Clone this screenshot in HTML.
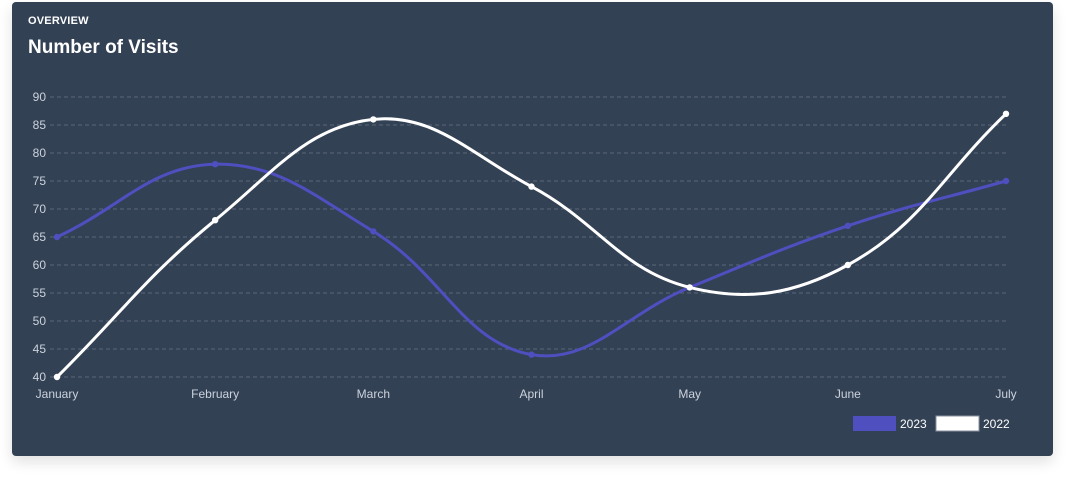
<!DOCTYPE html>
<html><head><meta charset="utf-8"><style>
html,body{margin:0;padding:0;background:#fff;width:1065px;height:478px;overflow:hidden;font-family:"Liberation Sans",sans-serif}
#card{position:absolute;left:12px;top:2px;width:1041px;height:454px;background:#334155;border-radius:4px;box-shadow:0 6px 14px rgba(0,0,0,0.12)}
#ov{position:absolute;left:16px;top:13px;font-size:11px;font-weight:bold;color:#fff;letter-spacing:0.2px}
#ttl{position:absolute;left:16px;top:35px;font-size:19px;font-weight:bold;color:#fff}
svg{position:absolute;left:0;top:0}
</style></head><body>
<div id="card">
<div id="ov">OVERVIEW</div>
<div id="ttl">Number of Visits</div>
</div>
<svg id="chart" width="1065" height="478"></svg>
<script>
const categories=["January","February","March","April","May","June","July"];
const yTicks=[40,45,50,55,60,65,70,75,80,85,90];
const values2023=[65,78,66,44,56,67,75];
const values2022=[40,68,86,74,56,60,87];
const seriesNames=["2023","2022"];
const seriesColors=["#4f4fbf","#ffffff"];
const NS="http://www.w3.org/2000/svg";
const svg=document.getElementById('chart');
const x0=57,x1=1006,yTop=97,yBot=377,vMin=40,vMax=90;
const xs=i=>x0+(x1-x0)*i/(categories.length-1);
const ys=v=>yBot-(v-vMin)/(vMax-vMin)*(yBot-yTop);
function mk(t,a,txt){const e=document.createElementNS(NS,t);for(const k in a)e.setAttribute(k,a[k]);if(txt!==undefined)e.textContent=txt;svg.appendChild(e);return e;}
yTicks.forEach(v=>{
 const l=mk('line',{x1:50,x2:x1,y1:ys(v),y2:ys(v),stroke:'#5b6779','stroke-dasharray':'4 3','stroke-width':1});
 
 
 const t=mk('text',{x:46,y:ys(v)+4,'text-anchor':'end','font-size':12,fill:'#cbd2dc'},v);
 
 
});
categories.forEach((c,i)=>{
 const t=mk('text',{x:xs(i),y:398,'text-anchor':'middle','font-size':12,fill:'#cbd2dc'},c);
 
 
});
function path(vals){
 const p=vals.map((v,i)=>[xs(i),ys(v)]);const T=0.4;
 let d='M'+p[0][0]+','+p[0][1];
 const cps=p.map((pt,i)=>{
  const prev=p[i-1]||pt,next=p[i+1]||pt;
  const d01=Math.hypot(pt[0]-prev[0],pt[1]-prev[1]),d12=Math.hypot(next[0]-pt[0],next[1]-pt[1]);
  let fa=d01/(d01+d12)||0,fb=d12/(d01+d12)||0;fa*=T;fb*=T;
  return {p:[pt[0]-fa*(next[0]-prev[0]),pt[1]-fa*(next[1]-prev[1])],n:[pt[0]+fb*(next[0]-prev[0]),pt[1]+fb*(next[1]-prev[1])]};
 });
 for(let i=1;i<p.length;i++){d+=' C'+cps[i-1].n.join(',')+' '+cps[i].p.join(',')+' '+p[i].join(',');}
 return d;
}
[values2023,values2022].forEach((vals,s)=>{
 const pe=mk('path',{d:path(vals),fill:'none',stroke:seriesColors[s],'stroke-width':3});
 
 
 vals.forEach((v,i)=>{
  const c=mk('circle',{cx:xs(i),cy:ys(v),r:3.2,fill:seriesColors[s]});
  
  
 });
});
const legX=[853,936];
seriesNames.forEach((n,s)=>{
 const r=mk('rect',{x:legX[s],y:416,width:43,height:15,fill:seriesColors[s],stroke:s?'#8a93a0':'none','stroke-width':1});
 
 
 const t=mk('text',{x:legX[s]+47,y:428,'font-size':12,fill:'#ffffff'},n);
 
 
});
</script>
</body></html>
